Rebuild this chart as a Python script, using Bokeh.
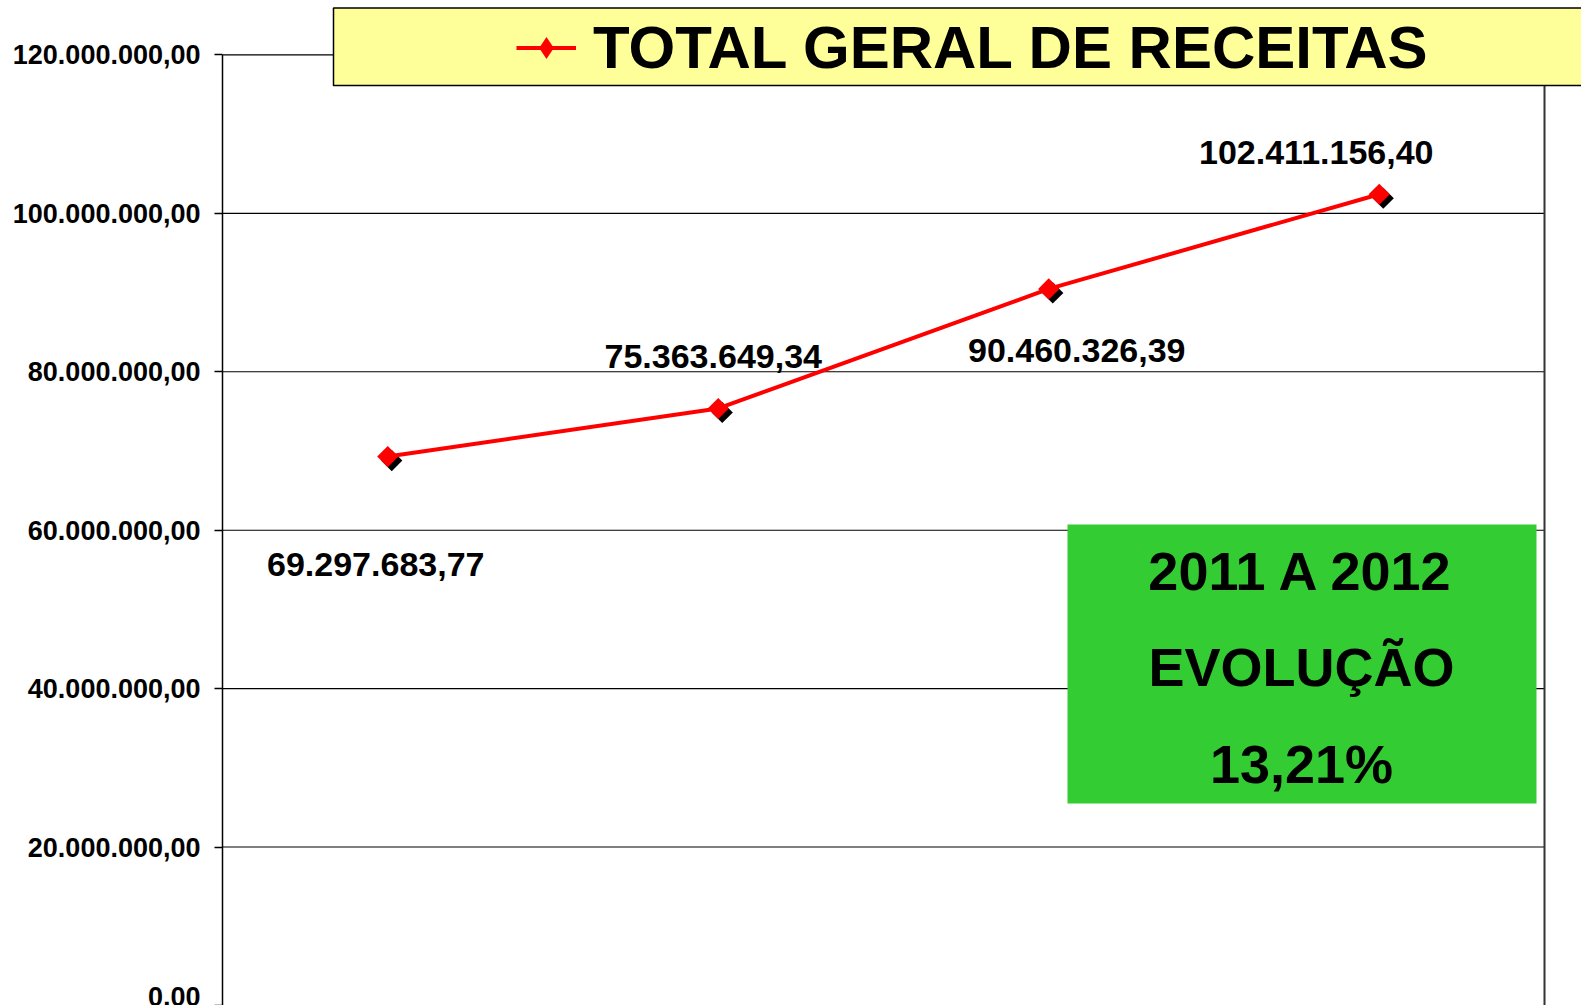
import numpy as np
from bokeh.plotting import figure
from bokeh.models import ColumnDataSource, FixedTicker, Legend, LegendItem, Range1d
from bokeh.core.properties import value
from bokeh.embed import file_html
from bokeh.resources import INLINE

# ---------------- data ----------------
categories = ["2009", "2010", "2011", "2012"]
receitas = [69297683.77, 75363649.34, 90460326.39, 102411156.40]
y_ticks = [0, 20000000, 40000000, 60000000, 80000000, 100000000, 120000000]
series_name = "TOTAL GERAL DE RECEITAS"
box_lines = ["2011 A 2012", "EVOLUÇÃO", "13,21%"]


def fmt_br(v):
    s = f"{v:,.2f}"
    return s.replace(",", "X").replace(".", ",").replace("X", ".")


tick_labels = [fmt_br(v) for v in y_ticks]
value_labels = [fmt_br(v) for v in receitas]

# ---------------- layout (pixels, figure coordinates) ----------------
W, H = 1581, 1005
FRAME_LEFT = 222
PLOT_RIGHT = 1544
Y_TOP_PX = 54.4          # pixel row of the top tick
cat_w = (PLOT_RIGHT - FRAME_LEFT) / len(categories)
px_per_unit = (H - Y_TOP_PX) / y_ticks[-1]


def X(px):
    return (px - FRAME_LEFT) / cat_w


def Y(py):
    return (H - py) / px_per_unit


FONT = "Liberation Sans"

p = figure(width=W, height=H,
           x_range=Range1d(0, X(W)), y_range=Range1d(0, Y(0)),
           output_backend="svg", toolbar_location=None,
           x_axis_location=None,
           min_border_left=FRAME_LEFT, min_border_right=0,
           min_border_top=0, min_border_bottom=0)
p.outline_line_color = None
p.xgrid.visible = False
p.ygrid.visible = False
p.background_fill_color = "white"

# y axis
ax = p.yaxis[0]
ax.ticker = FixedTicker(ticks=y_ticks)
ax.major_label_overrides = {t: l for t, l in zip(y_ticks, tick_labels)}
ax.bounds = (y_ticks[0], y_ticks[-1])
ax.axis_line_color = "black"
ax.axis_line_width = 1.5
ax.major_tick_line_color = "black"
ax.major_tick_line_width = 1.5
ax.major_tick_out = 8
ax.major_tick_in = 0
ax.minor_tick_line_color = None
ax.major_label_standoff = 14
ax.major_label_text_font = FONT
ax.major_label_text_font_style = "bold"
ax.major_label_text_font_size = "27px"
ax.major_label_text_color = "black"

n = len(categories)
xs = [i + 0.5 for i in range(n)]

# gridlines
p.segment(x0=[0] * len(y_ticks), x1=[n] * len(y_ticks), y0=y_ticks, y1=y_ticks,
          line_color="black", line_width=1.1)
# right border of plot area
p.segment(x0=[n], x1=[n], y0=[y_ticks[0]], y1=[y_ticks[-1]],
          line_color="#333333", line_width=2)

# shadow of markers
sh_dx = 4 / cat_w
sh_dy = 4 / px_per_unit
p.scatter([x + sh_dx for x in xs], [v - sh_dy for v in receitas], marker="square",
          angle=np.pi / 4, size=15, fill_color="black", line_color=None)

line_r = p.line(xs, receitas, line_color="#FF0000", line_width=4)
pts_r = p.scatter(xs, receitas, marker="square", angle=np.pi / 4, size=15,
                  fill_color="#FF0000", line_color=None)

# value labels
lab_dx = [-12, -5, 28, -63]
lab_dy = [108, -52, 62, -42]
lab_src = ColumnDataSource(dict(x=xs, y=receitas, t=value_labels, dx=lab_dx, dy=lab_dy))
p.text(x="x", y="y", text="t", x_offset="dx", y_offset="dy", source=lab_src,
       text_font=value(FONT), text_font_style="bold", text_font_size="34px",
       text_color="black", text_align="center", text_baseline="middle")

# title box (legend background)
p.quad(left=[X(333)], right=[X(1640)], top=[Y(7.5)], bottom=[Y(85)],
       fill_color="#FFFF99", line_color="black", line_width=1.5)

# green box
p.quad(left=[X(1067)], right=[X(1536)], top=[Y(524)], bottom=[Y(803)],
       fill_color="#33CC33", line_color=None)
box_src = ColumnDataSource(dict(x=[X(1301)] * 3, y=[Y(570), Y(666), Y(763)], t=box_lines))
p.text(x="x", y="y", text="t", source=box_src,
       text_font=value(FONT), text_font_style="bold", text_font_size="54px",
       text_color="black", text_align="center", text_baseline="middle")

# legend-only renderers (legend sample: red line with red diamond); their single
# point lies outside the visible ranges so only the legend sample shows
off_x, off_y = [-10.0], [-1.0e9]
leg_line = p.line(off_x, off_y, line_color="#FF0000", line_width=4)
leg_mark = p.scatter(off_x, off_y, marker="diamond", size=20, fill_color="#FF0000",
                     line_color=None)

legend = Legend(items=[LegendItem(label=series_name, renderers=[leg_line, leg_mark])],
                location=(294, 923))
legend.glyph_width = 60
legend.glyph_height = 55
legend.label_height = 55
legend.label_standoff = 17
legend.padding = 0
legend.margin = 0
legend.spacing = 0
legend.background_fill_alpha = 0
legend.border_line_color = None
legend.label_text_font = FONT
legend.label_text_font_style = "bold"
legend.label_text_font_size = "60px"
legend.label_text_color = "black"
p.add_layout(legend, "center")

open("out.html", "w").write(file_html(p, INLINE))
